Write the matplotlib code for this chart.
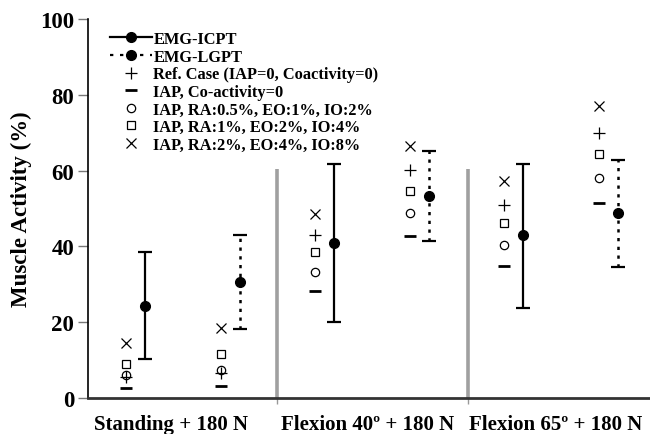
import matplotlib
matplotlib.use("Agg")
import matplotlib.pyplot as plt
from matplotlib.lines import Line2D
import numpy as np

plt.rcParams['font.family'] = ['Liberation Serif', 'DejaVu Serif']
plt.rcParams['font.weight'] = 'bold'

groups = ["Standing + 180 N", "Flexion 40º + 180 N", "Flexion 65º + 180 N"]

icpt_mean = [24.4, 40.8, 43.0]
icpt_low = [10.3, 20.1, 23.7]
icpt_high = [38.5, 61.8, 61.8]

lgpt_mean = [30.7, 53.2, 48.7]
lgpt_low = [18.2, 41.5, 34.6]
lgpt_high = [43.0, 65.1, 62.8]

# model predictions: [g1 left, g1 right, g2 left, g2 right, g3 left, g3 right]
ref_case = [5.5, 6.5, 43.0, 60.2, 51.0, 69.9]
iap_nocoact = [2.6, 3.1, 28.3, 42.8, 34.7, 51.5]
iap_low = [6.1, 7.4, 33.2, 48.7, 40.4, 58.0]
iap_mid = [8.9, 11.6, 38.4, 54.7, 46.1, 64.4]
iap_high = [14.4, 18.4, 48.5, 66.6, 57.3, 77.1]

labels = ["EMG-ICPT", "EMG-LGPT", "Ref. Case (IAP=0, Coactivity=0)",
          "IAP, Co-activity=0", "IAP, RA:0.5%, EO:1%, IO:2%",
          "IAP, RA:1%, EO:2%, IO:4%", "IAP, RA:2%, EO:4%, IO:8%"]

fig = plt.figure(figsize=(6.5, 4.35), dpi=100)
ax = fig.add_axes([88/650, 1-399/435, 1-88/650, (399-20)/435])

g = np.arange(3)
x_icpt = g + 0.102
x_lgpt = g + 0.603
x_mod = np.ravel(np.column_stack([g, g + 0.503]))

# separators
for s in [0.8, 1.81]:
    ax.plot([s, s], [0, 60.5], color='#a0a0a0', lw=2.6, zorder=1, solid_capstyle='butt')

im = np.array(icpt_mean)
e1 = ax.errorbar(x_icpt, im, yerr=[im-np.array(icpt_low), np.array(icpt_high)-im],
                 fmt='o', color='black', ms=7, elinewidth=1.6, capsize=5, capthick=1.6, zorder=3)
lm = np.array(lgpt_mean)
e2 = ax.errorbar(x_lgpt, lm, yerr=[lm-np.array(lgpt_low), np.array(lgpt_high)-lm],
                 fmt='o', color='black', ms=7, elinewidth=1.8, capsize=5, capthick=1.6, zorder=3)
e2[2][0].set_linestyle((0, (1.3, 2.2)))

ax.plot(x_mod, ref_case, ls='none', marker='+', color='black', ms=8, mew=0.9)
ax.plot(x_mod, iap_nocoact, ls='none', marker='_', color='black', ms=8, mew=2)
ax.plot(x_mod, iap_low, ls='none', marker='o', mfc='none', color='black', ms=6, mew=0.9)
ax.plot(x_mod, iap_mid, ls='none', marker='s', mfc='none', color='black', ms=6, mew=0.9)
ax.plot(x_mod, iap_high, ls='none', marker='x', color='black', ms=7, mew=0.9)

ax.set_xlim(-0.201, 2.772)
ax.set_ylim(0, 100)
ax.set_yticks([0, 20, 40, 60, 80, 100])
ax.tick_params(axis='y', labelsize=16.5, length=7, width=1, color='#777777', pad=3)
for t in ax.get_yticklabels():
    t.set_fontweight('bold')
ax.set_xticks([0.8, 1.81])
ax.set_xticklabels([])
ax.tick_params(axis='x', length=4, width=1, color='#999999')
for side in ['top', 'right']:
    ax.spines[side].set_visible(False)
ax.spines['left'].set_linewidth(1.2)
ax.spines['bottom'].set_linewidth(2)
ax.spines['bottom'].set_color('#333333')

label_x = [0.24, 1.28, 2.275]
for lx, lab in zip(label_x, groups):
    ax.text(lx, -4.3, lab, ha='center', va='top', fontsize=15, fontweight='bold',
            transform=ax.transData, clip_on=False)

fig.text(21/650, 1-209/435, "Muscle Activity (%)", rotation=90, ha='center', va='center',
         fontsize=16.5, fontweight='bold')

handles = [
    Line2D([], [], color='black', lw=1.6, marker='o', ms=7),
    Line2D([], [], color='black', lw=1.6, ls=(0, (1.5, 3)), marker='o', ms=7),
    Line2D([], [], ls='none', marker='+', color='black', ms=8, mew=0.9),
    Line2D([], [], ls='none', marker='_', color='black', ms=8, mew=2),
    Line2D([], [], ls='none', marker='o', mfc='none', color='black', ms=6, mew=0.9),
    Line2D([], [], ls='none', marker='s', mfc='none', color='black', ms=6, mew=0.9),
    Line2D([], [], ls='none', marker='x', color='black', ms=7, mew=0.9),
]
leg = fig.legend(handles, labels, loc='upper left', bbox_to_anchor=(110/650, 1-32/435),
                 frameon=False, handlelength=2.55, handletextpad=0.1,
                 labelspacing=0.1, borderaxespad=0, borderpad=0,
                 prop={'weight': 'bold', 'size': 11.8})

fig.savefig("out.png", dpi=100)
